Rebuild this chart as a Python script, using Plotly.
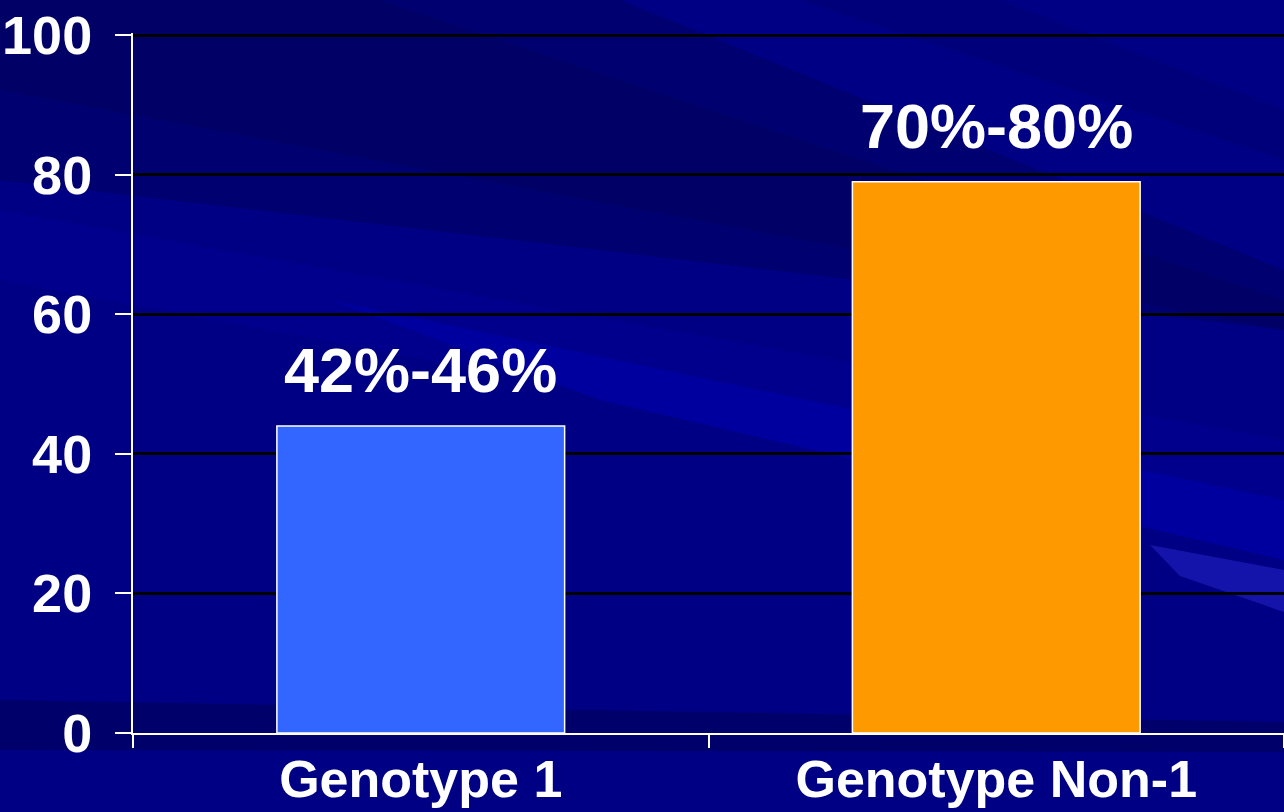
import plotly.graph_objects as go

categories = ["Genotype 1", "Genotype Non-1"]
values = [44, 79]
bar_labels = ["42%-46%", "70%-80%"]
bar_colors = ["#3366FF", "#FF9900"]
y_ticks = [0, 20, 40, 60, 80, 100]

W, H = 1284, 812
ML, MR, MT, MB = 133, 0, 33, 79
PW, PH = W - ML - MR, H - MT - MB

def px(pts):
    # pixel coordinates of the decorative background -> plot-area paper coordinates
    s = ""
    for i, (x, y) in enumerate(pts):
        s += ("M" if i == 0 else "L") + f"{(x - ML) / PW:.4f},{(H - MB - y) / PH:.4f} "
    return s + "Z"

bg_shapes = []
def band(pts, color, op=1.0):
    bg_shapes.append(dict(type="path", xref="paper", yref="paper", path=px(pts),
                          fillcolor=color, opacity=op, line=dict(width=0), layer="below"))

# decorative background streaks
band([(0, 0), (620, 0), (1284, 270), (1284, 330), (0, 180)], "#000070")
band([(0, 0), (380, 0), (1284, 300), (1284, 330), (0, 90)], "#000066")
band([(800, 0), (1000, 0), (1284, 110), (1284, 160)], "#00007A")
band([(0, 210), (1284, 440), (1284, 520), (0, 280)], "#00008C")
band([(330, 300), (1284, 500), (1284, 560), (600, 400)], "#00009E")
band([(1150, 545), (1284, 570), (1284, 612), (1180, 576)], "#1414AA")
band([(0, 700), (1284, 722), (1284, 752), (0, 750)], "#00006A")

fig = go.Figure()
fig.add_trace(go.Bar(
    x=categories, y=values,
    marker=dict(color=bar_colors, line=dict(color="white", width=1.5)),
    width=0.5, hoverinfo="skip",
))

for c, v, t in zip(categories, values, bar_labels):
    fig.add_annotation(x=c, y=v, text=t, showarrow=False, yanchor="bottom",
                       yshift=19, font=dict(family="Liberation Sans, Arial", size=63,
                                            color="white", weight="bold"))

fig.update_layout(
    width=W, height=H,
    margin=dict(l=ML, r=MR, t=MT, b=MB, autoexpand=False),
    paper_bgcolor="#000084",
    plot_bgcolor="rgba(0,0,0,0)",
    showlegend=False,
    shapes=bg_shapes,
    xaxis=dict(
        range=[-0.5, 1.5], tickson="boundaries", ticks="outside", ticklen=13,
        tickwidth=2, tickcolor="white", showline=True, linecolor="white", linewidth=2,
        showgrid=False, zeroline=False, automargin=False,
        tickfont=dict(family="Liberation Sans, Arial", size=52, color="white", weight="bold"),
    ),
    yaxis=dict(
        range=[0, 100.3], tickvals=y_ticks, ticks="outside", ticklen=16, tickwidth=2,
        tickcolor="white", showline=True, linecolor="white", linewidth=2,
        showgrid=True, gridcolor="black", gridwidth=3, zeroline=False, automargin=False,
        ticklabelstandoff=12,
        tickfont=dict(family="Liberation Sans, Arial", size=54, color="white", weight="bold"),
    ),
)

fig.write_html("out.html", config={"displayModeBar": False},
               post_script="document.body.style.margin='0';document.body.style.overflow='hidden';")
